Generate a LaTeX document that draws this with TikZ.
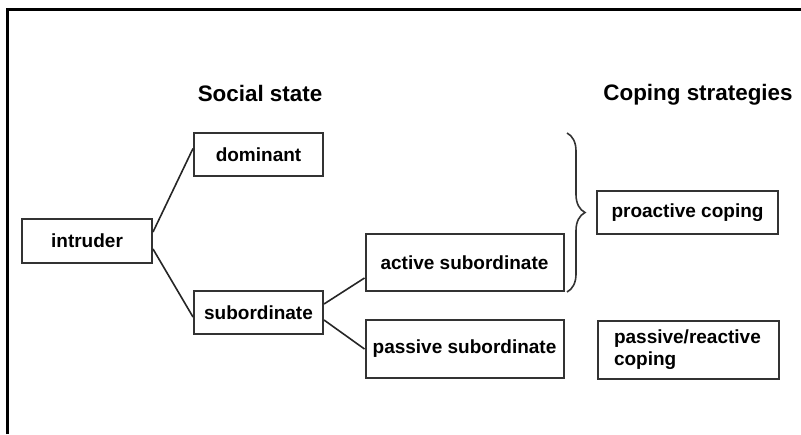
\documentclass[tikz,border=0pt]{standalone}
\usepackage{fontspec}
\setmainfont{Liberation Sans}
\usepackage{tikz}
\usetikzlibrary{positioning,decorations.pathreplacing}

\begin{document}
\begin{tikzpicture}[
  x=0.5pt, y=-0.5pt,
  font=\fontsize{9.5}{11}\selectfont\bfseries,
  box/.style={draw=black!80, line width=1pt, align=center, inner sep=0pt},
  statebox/.style={box, minimum width=64.5pt, minimum height=21.5pt},
  subbox/.style={box, minimum width=99pt, minimum height=28.5pt},
  copebox/.style={box, minimum width=90.5pt, minimum height=21.5pt},
  heading/.style={font=\fontsize{11.2}{13}\selectfont\bfseries},
  link/.style={draw=black!85, line width=0.8pt}
]
\useasboundingbox (0,0) rectangle (801,434);
% frame
\draw[line width=1.5pt] (7,434) -- (7,9) -- (801,9);

\node[heading] (socialhead) at (260,93) {Social state};
\node[heading] (copinghead) at (698,95) {Coping strategies};

\node[statebox, minimum width=65pt, minimum height=22pt] (intruder) at (87,241) {intruder};
\node[statebox] (dominant) at (258.5,154.5) {dominant};
\node[statebox] (subordinate) at (258.5,312.5) {subordinate};
\node[subbox] (activesub) at (464.5,262.5) {active subordinate};
\node[subbox, below=13.5pt of activesub, minimum height=29pt] (passivesub) {passive subordinate};
\node[copebox] (proactive) at (687.5,212.5) {proactive coping};
\node[copebox, minimum height=29pt, text width=74.5pt, inner xsep=8pt, align=left,
  anchor=north west] (reactive) at (597,320) {passive/reactive\\coping};

\draw[link] ([yshift=4.5pt]intruder.east) -- ([yshift=3pt]dominant.west);
\draw[link] ([yshift=-4pt]intruder.east) -- ([yshift=-2.25pt]subordinate.west);
\draw[link] ([yshift=4.25pt]subordinate.east) -- ([yshift=-7.75pt]activesub.west);
\draw[link] ([yshift=-3.75pt]subordinate.east) -- (passivesub.west);

% brace over the two upper boxes
\coordinate (bracetop) at (567,133);
\coordinate (bracebot) at (567,292);
\draw[draw=black!80, line width=0.8pt, decorate, decoration={brace, amplitude=9pt}]
  (bracetop) -- (bracebot);
\end{tikzpicture}
\end{document}
